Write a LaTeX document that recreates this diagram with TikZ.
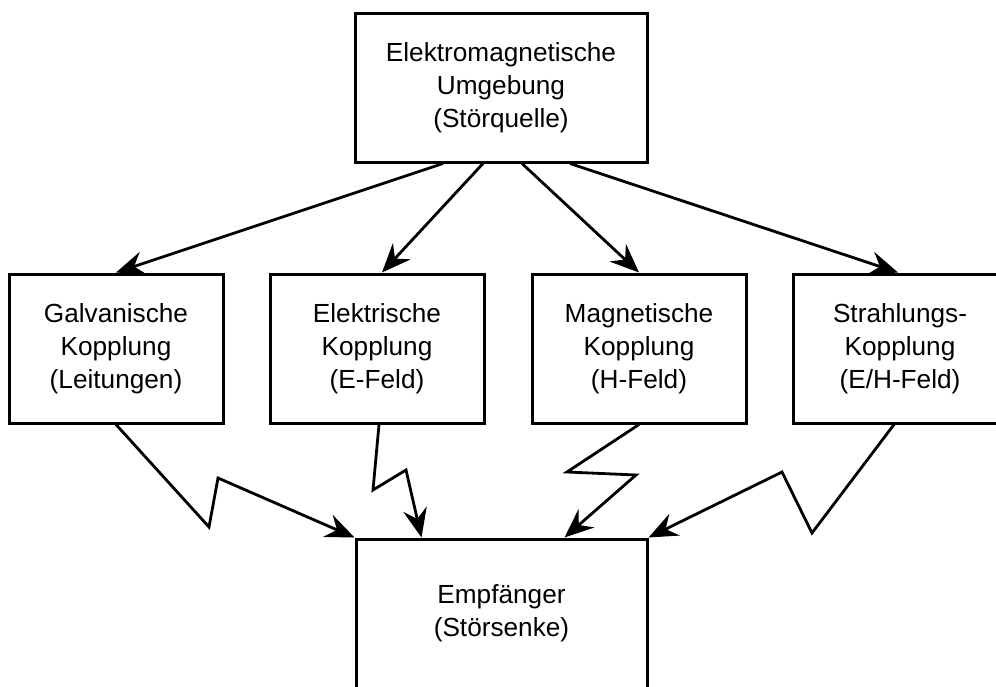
\documentclass[tikz,border=0pt]{standalone}
\usepackage{fontspec}
\setmainfont{Liberation Sans}
\usetikzlibrary{arrows.meta,calc}
\begin{document}
\begin{tikzpicture}[x=1pt,y=-1pt,
  box/.style={draw, line width=3pt, rectangle, inner sep=0pt, align=center,
    font=\fontsize{26.2}{33}\selectfont},
  mid/.style={box, minimum width=214pt, minimum height=149pt},
  conn/.style={line width=2.8pt, line join=miter,
    -{Stealth[length=29pt,width=24pt,inset=10pt]}}]
\useasboundingbox (0,0) rectangle (996,686);
\node[box, minimum width=292pt, minimum height=149pt] (top) at (501,87.5)
  {Elektromagnetische\\Umgebung\\(Störquelle)};
\node[mid] (galv) at (116,348.5) {Galvanische\\Kopplung\\(Leitungen)};
\node[mid] (elek) at (377,348.5) {Elektrische\\Kopplung\\(E-Feld)};
\node[mid] (magn) at (639,348.5) {Magnetische\\Kopplung\\(H-Feld)};
\node[mid] (strahl) at (900,348.5) {Strahlungs-\\Kopplung\\(E/H-Feld)};
\node[box, minimum width=291pt, minimum height=149pt] (recv) at (501.5,613.5)
  {Empfänger\\(Störsenke)};
% arrows from source
\draw[conn] ($(top.south)+(-58,0)$) -- (galv.north);
\draw[conn] ($(top.south)+(-18,0)$) -- ($(elek.north)+(5,0)$);
\draw[conn] ($(top.south)+(21,0)$) -- (magn.north);
\draw[conn] ($(top.south)+(69,0)$) -- ($(strahl.north)+(-2,0)$);
% zigzag couplings
\draw[conn] (galv.south) -- (209,527) -- (218,478) -- (recv.north west);
\draw[conn] ($(elek.south)+(2,0)$) -- (373,490) -- (406,470) -- ($(recv.north west)+(67,0)$);
\draw[conn] (magn.south) -- (567,472) -- (636,475) -- ($(recv.north west)+(210,0)$);
\draw[conn] ($(strahl.south)+(-6,0)$) -- (812,533) -- (782,472) -- (recv.north east);
\end{tikzpicture}
\end{document}
